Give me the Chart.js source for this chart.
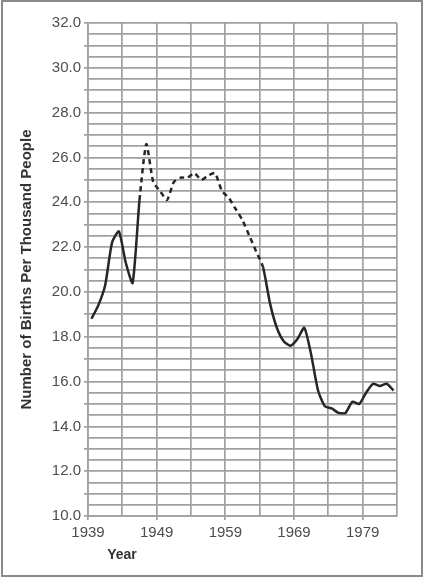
<!DOCTYPE html>
<html>
<head>
<meta charset="utf-8">
<script src="https://cdn.jsdelivr.net/npm/chart.js@4.4.0/dist/chart.umd.min.js"></script>
<style>
    html, body { margin: 0; padding: 0; background: #fff; }
    #wrap { position: relative; width: 426px; height: 578px; }
    #frame { position: absolute; left: 1px; top: 0px; width: 418px; height: 573px; border: 2px solid #8a8a8a; pointer-events: none; }
</style>
</head>
<body>
<div id="wrap">
    <canvas id="births" width="426" height="578"></canvas>
    <div id="frame"></div>
</div>
<script>
// births per 1000 people, by year
let years = [1939, 1940, 1941, 1942, 1943, 1944, 1945, 1946, 1947, 1948, 1949,
    1950, 1951, 1952, 1953, 1954, 1955, 1956, 1957, 1958, 1959,
    1960, 1961, 1962, 1963, 1964, 1965, 1966, 1967, 1968, 1969,
    1970, 1971, 1972, 1973, 1974, 1975, 1976, 1977, 1978, 1979,
    1980, 1981, 1982, 1983]
let births = [18.8, 19.4, 20.3, 22.2, 22.7, 21.3, 20.4, 24.1, 26.6, 24.9, 24.5,
    24.1, 24.9, 25.1, 25.1, 25.3, 25.0, 25.2, 25.3, 24.5, 24.2,
    23.7, 23.2, 22.5, 21.8, 21.1, 19.5, 18.4, 17.8, 17.6, 17.9,
    18.4, 17.2, 15.6, 14.9, 14.8, 14.6, 14.6, 15.1, 15.0, 15.5,
    15.9, 15.8, 15.9, 15.6]
// the part drawn dashed (estimated years)
let dashedFrom = 1946
let dashedTo = 1964

let xTicks = [1939, 1944, 1949, 1954, 1959, 1964, 1969, 1974, 1979, 1984]
let xLabels = [1939, 1949, 1959, 1969, 1979]
let yLabels = [10, 12, 14, 16, 18, 20, 22, 24, 26, 28, 30, 32]

const gridColor = '#a0a0a0'
const textColor = '#4d4d4d'
const fontFamily = '"Liberation Sans", Arial, sans-serif'

let points = years.map((y, i) => ({ x: y + 0.5, y: births[i] }))  // plotted mid-year

const yearTitle = {
    id: 'yearTitle',
    afterDraw(chart) {
        let ctx = chart.ctx
        ctx.save()
        ctx.font = 'bold 14px ' + fontFamily
        ctx.fillStyle = '#333'
        ctx.textAlign = 'center'
        ctx.textBaseline = 'middle'
        ctx.fillText('Year', 122, 555)
        ctx.restore()
    }
}

let ctx = document.getElementById('births').getContext('2d')
let chart = new Chart(ctx, {
    type: 'line',
    data: {
        datasets: [{
            data: points,
            borderColor: '#262626',
            borderWidth: 2.5,
            pointRadius: 0,
            tension: 0.2,
            fill: false,
            segment: {
                borderDash: c => (c.p0.parsed.x >= dashedFrom && c.p1.parsed.x <= dashedTo + 1) ? [5, 4] : undefined
            }
        }]
    },
    options: {
        responsive: false,
        animation: false,
        devicePixelRatio: 1,
        layout: { padding: { top: 23, right: 29, bottom: 0, left: 0 } },
        plugins: {
            legend: { display: false },
            tooltip: { enabled: false }
        },
        scales: {
            x: {
                type: 'linear',
                min: 1939,
                max: 1984,
                afterBuildTicks: scale => { scale.ticks = xTicks.map(v => ({ value: v })) },
                afterFit: scale => { scale.height = 62 },
                border: { color: gridColor, width: 1.7 },
                grid: {
                    color: gridColor,
                    lineWidth: 1.7,
                    tickLength: 4,
                    tickColor: c => xLabels.includes(c.tick.value) ? gridColor : 'rgba(0,0,0,0)'
                },
                ticks: {
                    autoSkip: false,
                    maxRotation: 0,
                    padding: 4,
                    color: textColor,
                    font: { family: fontFamily, size: 15 },
                    callback: v => xLabels.includes(v) ? String(v) : ''
                }
            },
            y: {
                min: 10,
                max: 32,
                afterFit: scale => { scale.width = 88 },
                border: { color: gridColor, width: 1.7 },
                grid: {
                    color: gridColor,
                    lineWidth: 1.7,
                    tickLength: 4,
                    tickColor: c => Number.isInteger(c.tick.value) ? gridColor : 'rgba(0,0,0,0)'
                },
                ticks: {
                    stepSize: 0.5,
                    autoSkip: false,
                    padding: 3,
                    color: textColor,
                    font: { family: fontFamily, size: 15 },
                    callback: v => yLabels.includes(v) ? v.toFixed(1) : ''
                },
                title: {
                    display: true,
                    text: 'Number of Births Per Thousand People',
                    color: '#333',
                    padding: { top: 18, bottom: 0 },
                    font: { family: fontFamily, size: 15, weight: 'bold' }
                }
            }
        }
    },
    plugins: [yearTitle]
})
</script>
</body>
</html>
